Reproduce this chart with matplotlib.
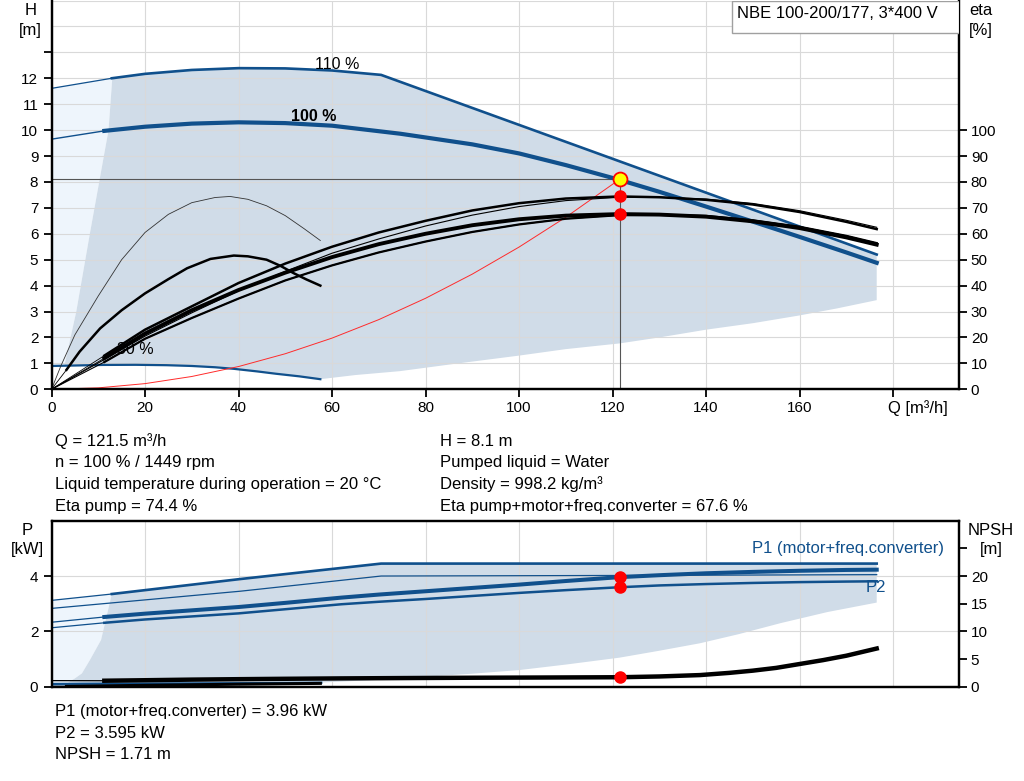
import matplotlib
matplotlib.use("Agg")
import matplotlib.pyplot as plt
from matplotlib.patches import Rectangle

plt.rcParams['font.family'] = ['Liberation Sans', 'DejaVu Sans']

# ---- head curves (Q m3/h, H m)
q_110 = [0, 12.9, 20, 30, 40, 50, 60, 70.5, 176.5]
h_110 = [11.61, 12.0, 12.17, 12.32, 12.39, 12.38, 12.3, 12.13, 5.2]
q_100 = [0, 11.3, 20, 30, 40, 50, 60, 74.6, 90, 100, 110, 121.5, 130, 140, 150, 160, 170, 176.5]
h_100 = [9.65, 9.97, 10.13, 10.25, 10.3, 10.27, 10.17, 9.86, 9.45, 9.1, 8.65, 8.08, 7.62, 7.05, 6.47, 5.88, 5.28, 4.88]
q_30 = [0, 11, 18, 24.6, 30, 35, 39, 44, 48, 53, 57.5]
h_30 = [0.9, 0.94, 0.945, 0.93, 0.9, 0.85, 0.79, 0.69, 0.6, 0.5, 0.39]

# operating range shading (top)
edge_q = [2.8, 5.3, 8.2, 12.2, 13.0]
edge_h = [0.95, 3.0, 6.0, 10.0, 12.0]
low_q = [57.5, 65, 74.5, 87, 100, 110, 121.5, 130, 140, 150, 160, 168, 176.5]
low_h = [0.39, 0.55, 0.7, 1.0, 1.3, 1.55, 1.77, 2.0, 2.3, 2.55, 2.85, 3.12, 3.44]

# efficiency curves (%)
q_eta = [0, 11.3, 20, 30, 40, 50, 60, 70, 80, 90, 100, 110, 121.5, 130, 140, 150, 160, 170, 176.5]
eta_pump_100 = [0, 13, 23, 32, 41, 48.5, 55, 60.5, 65, 69, 71.8, 73.6, 74.4, 74.1, 73.1, 71.3, 68.4, 64.6, 61.8]
eta_pump_110 = [0, 11.5, 20.5, 29.5, 38, 45.5, 52.5, 58, 63, 67.2, 70.5, 72.8, 74.1, 74.1, 73.4, 71.7, 68.9, 65.2, 62.5]
eta_tot_100 = [0, 12, 21.5, 30.5, 38.3, 45, 51, 56, 60, 63.3, 65.6, 67, 67.6, 67.4, 66.6, 64.8, 62.2, 58.6, 55.8]
eta_tot_110 = [0, 10.5, 19.5, 27.5, 35, 42, 47.8, 52.8, 57, 60.7, 63.6, 65.8, 67.2, 67.3, 66.9, 65.2, 62.7, 59.2, 56.4]
q_eta30 = [0, 2, 5, 10, 15, 20, 25, 30, 35, 38.2, 42, 46, 50, 54, 57.5]
eta_pump_30 = [0, 9, 21, 36, 50, 60.5, 67.5, 72, 74, 74.4, 73.3, 70.8, 67, 62, 57.4]
q_etatot30 = [0, 3.2, 6, 10.4, 15, 20, 25, 29, 34, 39, 42, 46, 49, 51.8, 54.5, 57.5]
eta_tot_30 = [0, 7.5, 14.5, 23.5, 30.5, 37, 42.5, 46.7, 50.3, 51.6, 51.3, 50, 47.6, 44.8, 42.4, 40]

# system curve
q_sys = [0, 10, 20, 30, 40, 50, 60, 70, 80, 90, 100, 110, 121.5]
h_sys = [0, 0.055, 0.219, 0.494, 0.878, 1.372, 1.975, 2.688, 3.511, 4.444, 5.487, 6.639, 8.1]

# power curves (kW)
q_p1_110 = [0, 12.9, 40.3, 70.5, 100, 140, 176.5]
p1_110 = [3.12, 3.35, 3.89, 4.45, 4.45, 4.45, 4.45]
q_p2_110 = [0, 40.3, 70.5, 120, 176.5]
p2_110 = [2.83, 3.45, 4.0, 4.02, 4.05]
q_p100 = [0, 11.3, 20, 30, 40, 50, 62, 70, 80, 90, 100, 110, 121.5, 130, 140, 150, 160, 170, 176.5]
p1_100 = [2.33, 2.52, 2.64, 2.76, 2.88, 3.03, 3.22, 3.33, 3.45, 3.57, 3.69, 3.82, 3.96, 4.03, 4.1, 4.15, 4.19, 4.22, 4.23]
p2_100 = [2.13, 2.31, 2.43, 2.54, 2.65, 2.8, 2.98, 3.07, 3.17, 3.28, 3.39, 3.49, 3.595, 3.66, 3.71, 3.75, 3.78, 3.8, 3.81]
q_p30 = [0, 11, 30, 45, 57.7]
p1_30 = [0.1, 0.11, 0.12, 0.13, 0.145]
p2_30 = [0.06, 0.07, 0.09, 0.1, 0.12]

# shading (bottom)
pedge_q = [3.5, 5.0, 6.5, 8.2, 10.6, 12.9]
pedge_p = [0.15, 0.3, 0.48, 0.96, 1.69, 3.35]
plow_q = [57.7, 70, 80, 90, 100, 110, 121.5, 130, 138.7, 147, 156, 166, 176.5]
plow_p = [0.15, 0.25, 0.36, 0.47, 0.6, 0.8, 1.05, 1.3, 1.57, 1.9, 2.3, 2.7, 3.04]

# NPSH (m)
q_npsh = [0, 11.3, 20, 30, 40, 50, 61.6, 75, 90, 105, 121.5, 130, 138.7, 145, 150, 155, 160, 165, 170, 176.5]
npsh = [1.1, 1.08, 1.17, 1.28, 1.36, 1.43, 1.5, 1.56, 1.62, 1.66, 1.71, 1.85, 2.1, 2.5, 2.9, 3.4, 4.1, 4.8, 5.6, 6.9]
q_npsh30 = [3.2, 20, 40, 57.5]
npsh30 = [0.05, 0.25, 0.45, 0.6]

# duty point
q_op, h_op = 121.5, 8.1
eta_p_op, eta_t_op = 74.4, 67.6
p1_op, p2_op, npsh_op = 3.96, 3.595, 1.71

BLUE = '#10508c'
SHADE = '#d0dce8'
LIGHT = '#eef5fc'
GRID = '#d9d9d9'
W, H = 1024, 781


def fx(px):
    return px / W


def fy(py):
    return 1 - py / H


fig = plt.figure(figsize=(10.24, 7.81), dpi=100)

# ---------------- top chart
ax = fig.add_axes([fx(51.5), fy(389.3), (959 - 51.5) / W, 388.8 / H])
ax_eta = ax.twinx()

ax.set_xlim(0, 194.1)
ax.set_ylim(0, 15)
ax_eta.set_ylim(0, 150)

# shading
lx = [0, 0, q_110[1]] + edge_q[::-1]
ly = [h_30[0], h_110[0], h_110[1]] + edge_h[::-1]
ax.fill(lx, ly, color=LIGHT, lw=0, zorder=0.2)
top_q = [q for q in q_110 if q > edge_q[-1]]
top_h = [h for q, h in zip(q_110, h_110) if q > edge_q[-1]]
mid_q = [q for q in q_30 if edge_q[0] < q < low_q[0]]
mid_h = [h for q, h in zip(q_30, h_30) if edge_q[0] < q < low_q[0]]
dx = edge_q + top_q + low_q[::-1] + mid_q[::-1]
dy = edge_h + top_h + low_h[::-1] + mid_h[::-1]
ax.fill(dx, dy, color=SHADE, lw=0, zorder=0.3)

ax.set_axisbelow(True)
ax.set_xticks(range(0, 181, 20))
ax.set_xticklabels([str(v) for v in range(0, 161, 20)] + [''])
ax.set_yticks(range(0, 16))
ax.set_yticklabels([str(v) for v in range(0, 13)] + ['', '', ''])
for t in ax.yaxis.get_major_ticks()[14:]:
    t.tick1line.set_visible(False)
ax.grid(True, color=GRID, lw=0.8)
ax_eta.set_yticks(range(0, 101, 10))

# head curves
ax.plot(q_110[:2], h_110[:2], color=BLUE, lw=0.9)
ax.plot(q_110[1:], h_110[1:], color=BLUE, lw=1.9)
ax.plot(q_100[:2], h_100[:2], color=BLUE, lw=1.0)
ax.plot(q_100[1:], h_100[1:], color=BLUE, lw=3.0)
ax.plot(q_30, h_30, color=BLUE, lw=1.6)
ax.plot(q_sys, h_sys, color='#ff2b2b', lw=0.7)

ax.text(61.2, 12.55, '110 %', fontsize=11.5, ha='center', va='center')
ax.text(56.1, 10.53, '100 %', fontsize=11.5, ha='center', va='center', fontweight='bold')
ax.text(17.9, 1.55, '30 %', fontsize=11.5, ha='center', va='center', zorder=1.5)

# efficiency curves
ax_eta.plot(q_eta30, eta_pump_30, color='#333333', lw=0.6)
ax_eta.plot(q_etatot30, eta_tot_30, color='k', lw=0.6)
ax_eta.plot(q_etatot30[1:], eta_tot_30[1:], color='k', lw=1.8)
ax_eta.plot(q_eta, eta_pump_110, color='k', lw=0.8)
ax_eta.plot(q_eta, eta_tot_110, color='k', lw=0.8)
ax_eta.plot(q_eta[1:], eta_tot_110[1:], color='k', lw=1.6)
ax_eta.plot(q_eta, eta_pump_100, color='k', lw=0.6)
ax_eta.plot(q_eta[1:], eta_pump_100[1:], color='k', lw=1.8)
ax_eta.plot(q_eta, eta_tot_100, color='k', lw=0.6)
ax_eta.plot(q_eta[1:], eta_tot_100[1:], color='k', lw=2.8)

# duty point
ax.plot([0, q_op], [h_op, h_op], color='#555555', lw=0.8, zorder=1.8)
ax.plot([q_op, q_op], [0, h_op], color='#555555', lw=0.8, zorder=1.8)
ax_eta.plot([q_op, q_op], [eta_p_op, eta_t_op], 'o', color='#ff0000', ms=8, zorder=5)
ax_eta.plot(q_op, h_op * 10, 'o', mfc='#ffff00', mec='#ff0000', ms=10, mew=1.3, zorder=5)

for a in (ax, ax_eta):
    a.spines['top'].set_visible(False)
    for s in ('left', 'right', 'bottom'):
        a.spines[s].set_linewidth(1.6)
    a.tick_params(direction='out', length=5.5, width=1.3, labelsize=11, pad=3)
ax.tick_params(axis='y', pad=4)

box_w = (959 - 731.7) / (959 - 51.5)
box_h = 32.7 / 388.8
ax_eta.add_patch(Rectangle((1 - box_w, 1 - box_h), box_w, box_h,
                           transform=ax_eta.transAxes, facecolor='white',
                           edgecolor='#a0a0a0', lw=1, zorder=6))

# ---------------- bottom chart
axp = fig.add_axes([fx(51.5), fy(686.7), (959 - 51.5) / W, 166 / H])
ax_np = axp.twinx()
axp.set_xlim(0, 194.1)
axp.set_ylim(0, 6)
ax_np.set_ylim(0, 30)

plx = [0, 0, q_p1_110[1]] + pedge_q[::-1]
ply = [p1_30[0], p1_110[0], p1_110[1]] + pedge_p[::-1]
axp.fill(plx, ply, color=LIGHT, lw=0, zorder=0.2)
ptop_q = [q for q in q_p1_110 if q > pedge_q[-1]]
ptop_p = [p for q, p in zip(q_p1_110, p1_110) if q > pedge_q[-1]]
pmid_q = [q for q in q_p30 if pedge_q[0] < q < plow_q[0]]
pmid_p = [p for q, p in zip(q_p30, p1_30) if pedge_q[0] < q < plow_q[0]]
pdx = pedge_q + ptop_q + plow_q[::-1] + pmid_q[::-1]
pdy = pedge_p + ptop_p + plow_p[::-1] + pmid_p[::-1]
axp.fill(pdx, pdy, color=SHADE, lw=0, zorder=0.3)

axp.set_axisbelow(True)
axp.set_xticks(range(0, 181, 20))
axp.set_xticklabels([])
axp.set_yticks([0, 2, 4])
axp.grid(True, color=GRID, lw=0.8)
ax_np.set_yticks(range(0, 26, 5))
ax_np.set_yticklabels(['0', '5', '10', '15', '20', ''])

axp.plot(q_p1_110[:2], p1_110[:2], color=BLUE, lw=0.9)
axp.plot(q_p1_110[1:], p1_110[1:], color=BLUE, lw=1.9)
axp.plot(q_p2_110, p2_110, color=BLUE, lw=0.9)
axp.plot(q_p100[:2], p1_100[:2], color=BLUE, lw=0.9)
axp.plot(q_p100[1:], p1_100[1:], color=BLUE, lw=2.9)
axp.plot(q_p100[:2], p2_100[:2], color=BLUE, lw=0.9)
axp.plot(q_p100[1:], p2_100[1:], color=BLUE, lw=1.8)
axp.plot(q_p30, p2_30, color='#6f8fb0', lw=1.2)
axp.plot(q_p30, p1_30, color=BLUE, lw=1.6)

ax_np.plot(q_npsh30, npsh30, color='k', lw=2.2)
ax_np.plot(q_npsh[:2], npsh[:2], color='k', lw=0.9)
ax_np.plot(q_npsh[1:], npsh[1:], color='k', lw=3.2)

axp.plot([q_op, q_op], [p1_op, p2_op], 'o', color='#ff0000', ms=8, zorder=5)
ax_np.plot(q_op, npsh_op, 'o', color='#ff0000', ms=8, zorder=5)

axp.text(149.8, 5.0, 'P1 (motor+freq.converter)', color=BLUE, fontsize=12, va='center')
axp.text(174.2, 3.6, 'P2', color=BLUE, fontsize=12, va='center')

for a in (axp, ax_np):
    for s in a.spines.values():
        s.set_linewidth(1.6)
    a.tick_params(direction='out', length=5.5, width=1.3, labelsize=11, pad=3)
axp.tick_params(axis='x', length=0)
axp.tick_params(axis='y', pad=4)

# ---------------- texts
fig.text(fx(30.5), fy(15), 'H', fontsize=12, ha='center')
fig.text(fx(30.5), fy(35), '[m]', fontsize=12, ha='center')
fig.text(fx(981), fy(15), 'eta', fontsize=12, ha='center')
fig.text(fx(981), fy(35), '[%]', fontsize=12, ha='center')
fig.text(fx(737.3), fy(18.3), 'NBE 100-200/177, 3*400 V', fontsize=12, zorder=10)
fig.text(fx(888), fy(413), 'Q [m³/h]', fontsize=12)

fig.text(fx(27), fy(535), 'P', fontsize=12, ha='center')
fig.text(fx(27), fy(554), '[kW]', fontsize=12, ha='center')
fig.text(fx(991), fy(535), 'NPSH', fontsize=12, ha='center')
fig.text(fx(991), fy(554), '[m]', fontsize=12, ha='center')

left_info = ['Q = 121.5 m³/h', 'n = 100 % / 1449 rpm',
             'Liquid temperature during operation = 20 °C', 'Eta pump = 74.4 %']
right_info = ['H = 8.1 m', 'Pumped liquid = Water', 'Density = 998.2 kg/m³',
              'Eta pump+motor+freq.converter = 67.6 %']
power_info = ['P1 (motor+freq.converter) = 3.96 kW', 'P2 = 3.595 kW', 'NPSH = 1.71 m']

for i, s in enumerate(left_info):
    fig.text(fx(55), fy(446 + 21.5 * i), s, fontsize=12)
for i, s in enumerate(right_info):
    fig.text(fx(439.5), fy(446 + 21.5 * i), s, fontsize=12)
for i, s in enumerate(power_info):
    fig.text(fx(55), fy(716 + 21.5 * i), s, fontsize=12)

fig.savefig('out.png', dpi=100)
